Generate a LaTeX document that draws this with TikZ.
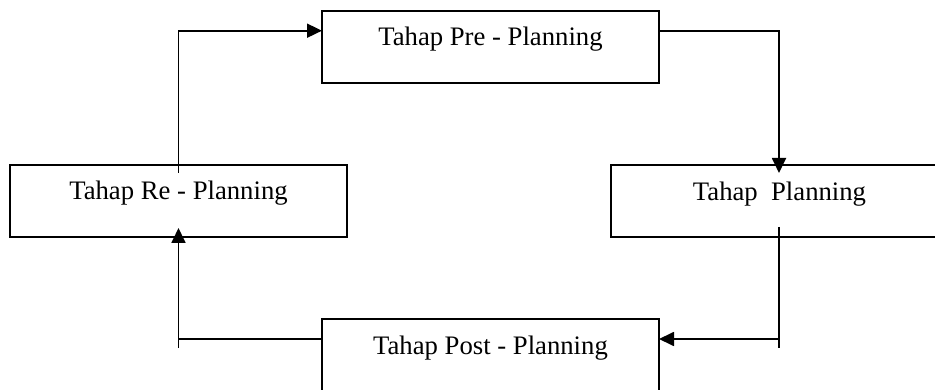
\documentclass[tikz,border=0pt]{standalone}
\usepackage{fontspec}
\setmainfont{Liberation Serif}
\usetikzlibrary{arrows.meta}
\begin{document}
\begin{tikzpicture}[x=1pt,y=-1pt,
  box/.style={draw, line width=1.8pt, inner sep=0pt, outer sep=0pt},
  lbl/.style={inner sep=0pt, anchor=base, font=\fontsize{26.7}{30}\selectfont},
  conn/.style={line width=1.8pt},
  arr/.style={line width=1.8pt, -{Triangle[length=15pt,width=14pt]}}]
\useasboundingbox (0,0) rectangle (935,390);
\clip (0,0) rectangle (935,390);
% boxes
\node[box, minimum width=337pt, minimum height=72pt] (pre) at (490.5,47) {};
\node[box, minimum width=337pt, minimum height=72pt] (re) at (178.5,201) {};
\node[box, minimum width=400pt, minimum height=72pt] (plan) at (811,201) {};
\node[box, minimum width=337pt, minimum height=90pt] (post) at (490.5,364) {};
% labels
\node[lbl] (pretext) at (490.5,46) {Tahap Pre - Planning};
\node[lbl] (retext) at (178.5,200) {Tahap Re - Planning};
\node[lbl] (plantext) at (779.5,201) {Tahap\ \ Planning};
\node[lbl] (posttext) at (490.5,354) {Tahap Post - Planning};
% free ends
\coordinate (rb) at (779,348);
\coordinate (rj) at (779,339);
\coordinate (lb) at (178.5,348);
\coordinate (lj) at (178.5,339);
% connectors
\draw[arr] ([yshift=-8pt]re.north) |- ([yshift=16.3pt]pre.west);
\draw[arr] ([yshift=16.3pt]pre.east) -| ([xshift=-32pt,yshift=-8pt]plan.north);
\draw[conn] ([xshift=-32pt,yshift=10pt]plan.south) -- (rb);
\draw[arr] (rj) -- (post.east |- rj);
\draw[arr] (lb) -- ([yshift=9pt]re.south);
\draw[conn] (lj) -- (post.west |- lj);
\end{tikzpicture}
\end{document}
